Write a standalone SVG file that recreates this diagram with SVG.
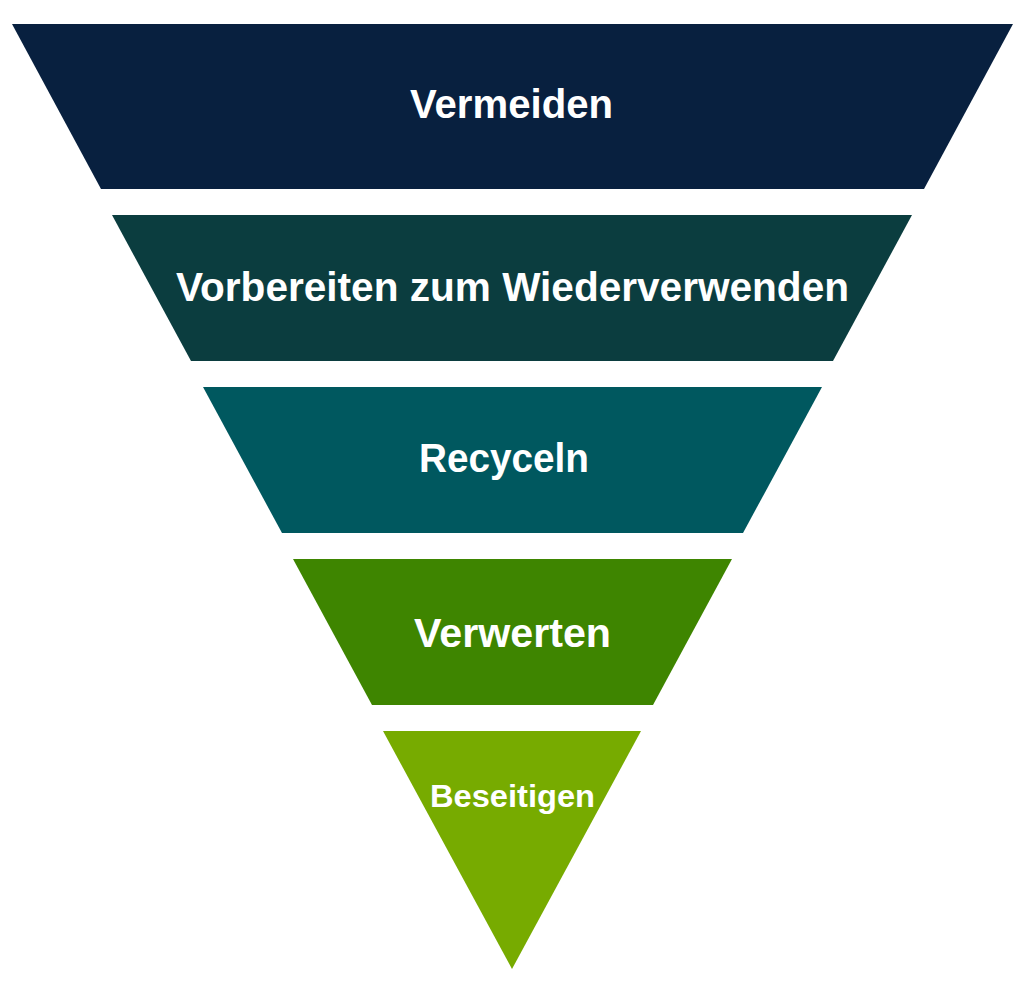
<svg xmlns="http://www.w3.org/2000/svg" width="1025" height="994" viewBox="0 0 1025 994">
<style>
.lbl{font-family:"Liberation Sans",Arial,sans-serif;font-weight:bold;fill:#ffffff;text-anchor:middle;font-size:40px}
.sm{font-size:32px}
</style>
<rect width="1025" height="994" fill="#ffffff"/>
<g id="vermeiden">
<polygon points="12,24 1013,24 924,189 101,189" fill="#08203f"/>
<text class="lbl" x="511.5" y="118" textLength="203" lengthAdjust="spacingAndGlyphs">Vermeiden</text>
</g>
<g id="vorbereiten">
<polygon points="112,215 912,215 833,361 191,361" fill="#0b3d3f"/>
<text class="lbl" x="512.5" y="301" textLength="673" lengthAdjust="spacingAndGlyphs">Vorbereiten zum Wiederverwenden</text>
</g>
<g id="recyceln">
<polygon points="203,387 822,387 743,533 282,533" fill="#00585f"/>
<text class="lbl" x="504" y="472" textLength="170" lengthAdjust="spacingAndGlyphs">Recyceln</text>
</g>
<g id="verwerten">
<polygon points="293,559 732,559 653,705 372,705" fill="#3e8500"/>
<text class="lbl" x="512.5" y="647" textLength="197" lengthAdjust="spacingAndGlyphs">Verwerten</text>
</g>
<g id="beseitigen">
<polygon points="383,731 641,731 512,969" fill="#77ab00"/>
<text class="lbl sm" x="512.5" y="807" textLength="165" lengthAdjust="spacingAndGlyphs">Beseitigen</text>
</g>
<g id="connectors"></g>
</svg>
